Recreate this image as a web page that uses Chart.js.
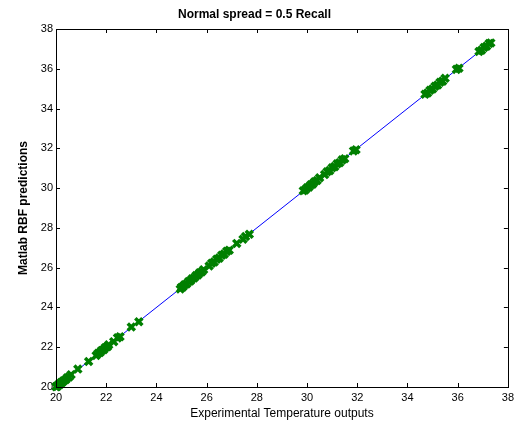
<!DOCTYPE html>
<html>
<head>
  <meta charset="UTF-8">
  <title>Normal spread = 0.5 Recall</title>
  <style type="text/css">
    html, body { margin: 0; padding: 0; background: #fff; }
    #chart-container { width: 518px; height: 427px; }
  </style>
  <script type="text/javascript" src="https://cdn.jsdelivr.net/npm/chart.js@4.4.1/dist/chart.umd.min.js"></script>
</head>
<body>
<div id="chart-container">
  <canvas id="mycanvas" width="518" height="427"></canvas>
</div>
<script>
// experimental temperature outputs (x) and matlab RBF predictions (y)
var experimental = [
  20.0, 20.05, 20.1, 20.15, 20.2, 20.25, 20.3, 20.38, 20.45, 20.52, 20.6,
  20.87, 21.3,
  21.6, 21.68, 21.75, 21.82, 21.9, 21.97, 22.05, 22.1,
  22.3, 22.45, 22.55,
  23.0, 23.3,
  24.95, 25.0, 25.05, 25.12, 25.2, 25.28, 25.35, 25.42, 25.5, 25.58, 25.65, 25.72, 25.8, 25.88,
  26.1, 26.2, 26.3, 26.4, 26.5, 26.6, 26.7, 26.8, 26.9,
  27.2, 27.45, 27.55, 27.7,
  29.85, 29.92, 30.0, 30.07, 30.15, 30.22, 30.3, 30.4, 30.5, 30.7, 30.8, 30.9, 31.0, 31.1, 31.2, 31.3, 31.4, 31.5,
  31.85, 31.95,
  34.7, 34.8, 34.9, 35.0, 35.1, 35.2, 35.3, 35.4, 35.5,
  35.95, 36.05,
  36.85, 36.95, 37.05, 37.15, 37.25, 37.32
];
var predicted = [
  20.02, 20.03, 20.12, 20.13, 20.22, 20.24, 20.31, 20.36, 20.47, 20.5, 20.62,
  20.9, 21.28,
  21.58, 21.7, 21.73, 21.84, 21.88, 21.99, 22.03, 22.12,
  22.28, 22.47, 22.53,
  23.02, 23.28,
  24.93, 25.02, 25.03, 25.14, 25.18, 25.3, 25.33, 25.44, 25.48, 25.6, 25.63, 25.74, 25.78, 25.9,
  26.08, 26.22, 26.28, 26.42, 26.48, 26.62, 26.68, 26.82, 26.88,
  27.22, 27.43, 27.57, 27.68,
  29.87, 29.9, 30.02, 30.05, 30.17, 30.2, 30.32, 30.38, 30.52, 30.68, 30.82, 30.88, 31.02, 31.08, 31.22, 31.28, 31.42, 31.48,
  31.87, 31.93,
  34.72, 34.78, 34.92, 34.98, 35.12, 35.18, 35.32, 35.38, 35.52,
  35.97, 36.03,
  36.87, 36.93, 37.07, 37.13, 37.27, 37.3
];
var lineX = [20, 37.35];
var lineY = [20, 37.35];
var axisTicks = [20, 22, 24, 26, 28, 30, 32, 34, 36, 38];

var FONT = 'Liberation Sans, Arial, sans-serif';

// matlab style box with inward ticks on all four sides
var boxPlugin = {
  id: 'box',
  afterDraw: function(chart) {
    var ctx = chart.ctx, a = chart.chartArea;
    var xs = chart.scales.x, ys = chart.scales.y;
    ctx.save();
    ctx.strokeStyle = '#000';
    ctx.lineWidth = 1;
    ctx.strokeRect(Math.round(a.left) + 0.5, Math.round(a.top) + 0.5,
      Math.round(a.right - a.left), Math.round(a.bottom - a.top));
    ctx.beginPath();
    axisTicks.forEach(function(v) {
      var px = Math.round(xs.getPixelForValue(v)) + 0.5;
      ctx.moveTo(px, a.bottom); ctx.lineTo(px, a.bottom - 4);
      ctx.moveTo(px, a.top); ctx.lineTo(px, a.top + 4);
      var py = Math.round(ys.getPixelForValue(v)) + 0.5;
      ctx.moveTo(a.left, py); ctx.lineTo(a.left + 4, py);
      ctx.moveTo(a.right, py); ctx.lineTo(a.right - 4, py);
    });
    ctx.stroke();
    ctx.restore();
  }
};

var points = experimental.map(function(x, i) { return {x: x, y: predicted[i]}; });
var fitLine = lineX.map(function(x, i) { return {x: x, y: lineY[i]}; });

new Chart(document.getElementById('mycanvas'), {
  type: 'scatter',
  data: {
    datasets: [
      {
        label: 'fit',
        data: fitLine,
        showLine: true,
        borderColor: '#0000ff',
        borderWidth: 1,
        pointRadius: 0,
        order: 1
      },
      {
        label: 'predictions',
        data: points,
        pointStyle: 'crossRot',
        pointRadius: 5,
        borderColor: '#007f00',
        backgroundColor: '#007f00',
        borderWidth: 3.5,
        clip: false,
        order: 0
      }
    ]
  },
  options: {
    responsive: false,
    animation: false,
    events: [],
    layout: { padding: { left: 0, right: 9, top: 0, bottom: 0 } },
    plugins: {
      legend: { display: false },
      tooltip: { enabled: false },
      title: {
        display: true,
        text: 'Normal spread = 0.5 Recall',
        color: '#000',
        font: { family: FONT, size: 12, weight: 'bold' },
        padding: { top: 7, bottom: 7.6 }
      }
    },
    scales: {
      x: {
        type: 'linear',
        min: 20, max: 38,
        afterFit: function(s) { s.height = 40; },
        afterBuildTicks: function(s) { s.ticks = axisTicks.map(function(v) { return {value: v}; }); },
        grid: { display: false, drawTicks: false },
        border: { display: false },
        ticks: { color: '#000', padding: 4, font: { family: FONT, size: 11 }, maxRotation: 0 },
        title: {
          display: true,
          text: 'Experimental Temperature outputs',
          color: '#000',
          font: { family: FONT, size: 12 },
          padding: { top: 0, bottom: 6 }
        }
      },
      y: {
        type: 'linear',
        min: 20, max: 38,
        afterFit: function(s) { s.width = 56; },
        afterBuildTicks: function(s) { s.ticks = axisTicks.map(function(v) { return {value: v}; }); },
        grid: { display: false, drawTicks: false },
        border: { display: false },
        ticks: { color: '#000', padding: 3, font: { family: FONT, size: 11 } },
        title: {
          display: true,
          text: 'Matlab RBF predictions',
          color: '#000',
          font: { family: FONT, size: 12, weight: 'bold' },
          padding: { top: 16, bottom: 0 }
        }
      }
    }
  },
  plugins: [boxPlugin]
});
</script>
</body>
</html>
